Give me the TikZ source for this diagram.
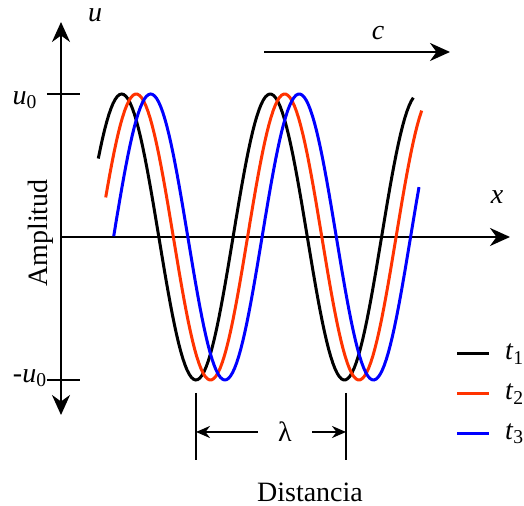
\documentclass[tikz,border=0pt]{standalone}
\usepackage{fontspec}
\setmainfont{Liberation Serif}
\usetikzlibrary{arrows.meta}
\definecolor{wred}{RGB}{255,51,0}
\tikzset{
  wave/.style={line width=1.5pt},
  axis/.style={line width=1.2pt},
  bigtip/.style={>={Stealth[length=10pt,width=9pt]}}
}

\begin{document}
\begin{tikzpicture}[x=0.5pt,y=0.5pt,>={Stealth[length=7pt,width=6pt]},font=\fontsize{14}{16}\selectfont]
  \useasboundingbox (-61,-269) rectangle (463,237);
  % axes
  \coordinate (ybot) at (0,-178);
  \coordinate (ytop) at (0,215);
  \coordinate (o) at (0,0);
  \coordinate (xend) at (449,0);
  \draw[axis,bigtip,<->] (ybot)--(ytop);
  \draw[axis,bigtip,->] (o)--(xend);
  \node (ulab) at (34,222) {\textit{u}};
  \node (xlab) at (436,40) {\textit{x}};
  \node[rotate=90] (amp) at (-20,4) {Amplitud};
  % amplitude ticks
  \coordinate (umax) at (0,143);
  \coordinate (umin) at (0,-143);
  \draw[axis] (umax) ++(-14,0) -- ++(33,0);
  \draw[axis] (umin) ++(-14,0) -- ++(33,0);
  \node (u0) at (-36,137) {\textit{u}\textsubscript{0}};
  \node (mu0) at (-31,-141) {-\textit{u}\textsubscript{0}};
  % waves at t1, t2, t3
  \draw[wave,black] plot[domain=37.3:352.3,samples=150] (\x,{143*cos((\x-60.7)/148.5*360)});
  \draw[wave,wred] plot[domain=44.7:360.7,samples=150] (\x,{143*cos((\x-75.2)/148.5*360)});
  \draw[wave,blue] plot[domain=52.7:358,samples=150] (\x,{143*cos((\x-89.7)/148.5*360)});
  % propagation
  \coordinate (c0) at (203,185);
  \coordinate (c1) at (389,185);
  \draw[axis,bigtip,->] (c0)--(c1);
  \node (clab) at (317,204) {\textit{c}};
  % wavelength
  \coordinate (b1t) at (135,-156);
  \coordinate (b1b) at (135,-223);
  \coordinate (b2t) at (285,-156);
  \coordinate (b2b) at (285,-223);
  \draw[axis] (b1t)--(b1b);
  \draw[axis] (b2t)--(b2b);
  \node[inner xsep=10pt] (lam) at (224,-195) {λ};
  \draw[axis,->] (lam.west) -- (lam.west -| b1t);
  \draw[axis,->] (lam.east) -- (lam.east -| b2t);
  \node (dist) at (249,-255) {Distancia};
  % legend
  \foreach \c/\i/\yy in {black/1/-117, wred/2/-157, blue/3/-197}{
    \coordinate (l\i a) at (396,\yy);
    \coordinate (l\i b) at (428,\yy);
    \draw[wave,\c] (l\i a)--(l\i b);
    \node[anchor=west] (t\i) at (437,\yy) {\textit{t}\textsubscript{\i}};
  }
\end{tikzpicture}
\end{document}
